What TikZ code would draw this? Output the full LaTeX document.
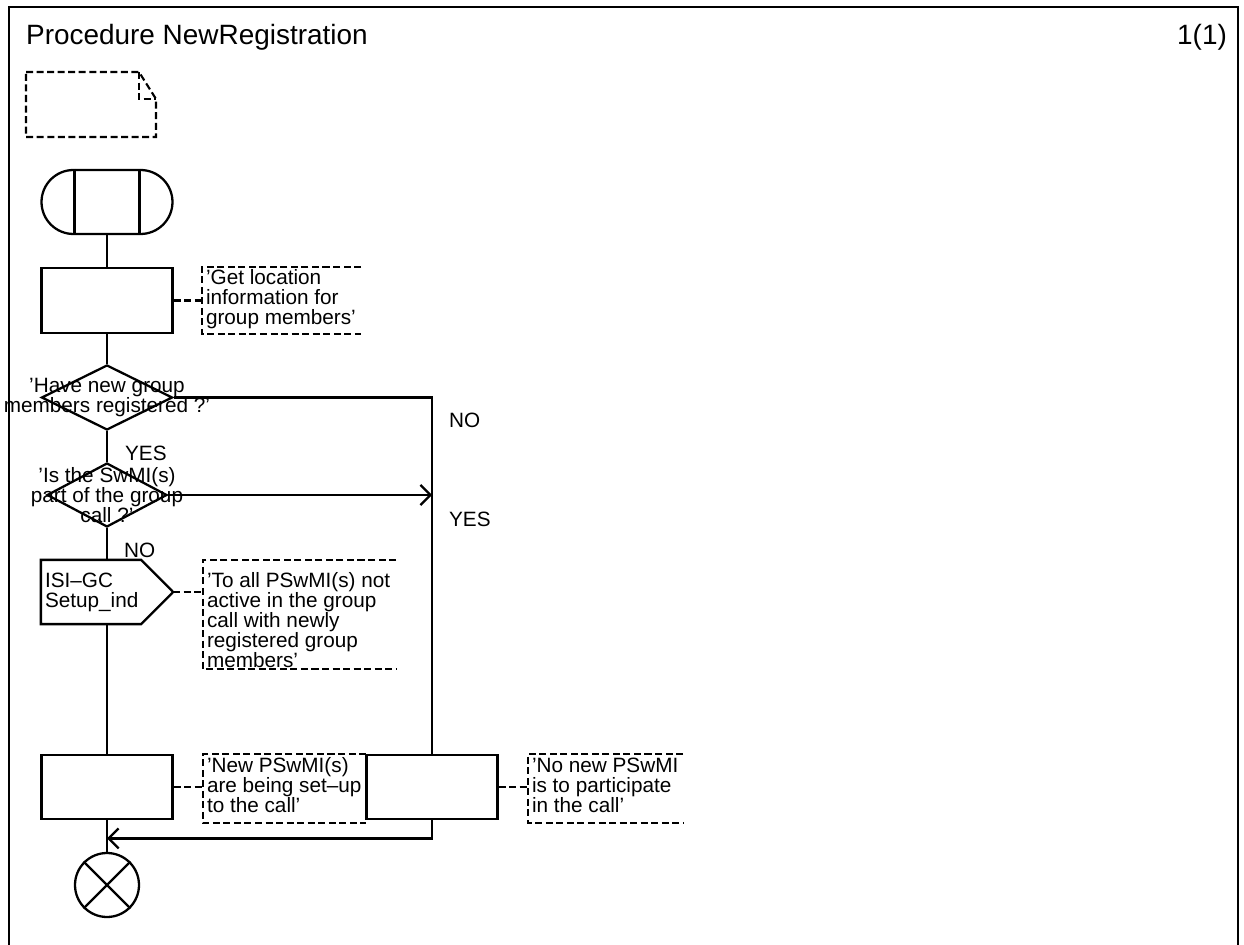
\documentclass[tikz,border=0pt]{standalone}
\usepackage{fontspec}
\setmainfont{Liberation Sans}
\usetikzlibrary{shapes.geometric,shapes.misc,arrows.meta,calc,positioning}
\tikzset{
  task/.style={
    shape = rectangle,
    draw,
    minimum width = 2.62cm,
    minimum height = 1.29cm,
    inner sep = 0pt
  },
  startsym/.style={
    shape = rounded rectangle,
    draw,
    minimum width = 2.62cm,
    minimum height = 1.28cm,
    inner sep = 0pt
  },
  decision/.style={
    shape = diamond,
    draw,
    minimum width = 2.62cm,
    minimum height = 1.3cm,
    inner sep = 0pt
  },
  outsig/.style={
    shape = rectangle,
    minimum width = 2.6cm,
    minimum height = 1.24cm,
    text width = 2.48cm,
    inner xsep = 0.06cm,
    inner ysep = 0pt,
    align = left
  },
  stopsym/.style={
    shape = circle,
    draw,
    minimum size = 1.28cm,
    inner sep = 0pt
  },
}
\tikzset{
  note/.style={
    inner sep = 0pt,
    minimum height = 1.34cm
  },
  notetext/.style={
    anchor = base west,
    align = left,
    inner sep = 0pt
  },
  bracket/.style={
    draw,
    line width = 1.2pt,
    dash pattern = on 4pt off 2pt
  },
  lbl/.style={
    anchor = base west,
    inner sep = 0pt
  },
  flow/.style={
    -{Straight Barb[length=0.2cm,width=0.4cm]}
  },
  bigfont/.style={
    font = \fontsize{15.9pt}{18pt}\selectfont
  }
}

\begin{document}
\begin{tikzpicture}[x=0.02cm, y=-0.02cm, line width=1.3pt,
  font=\fontsize{11.8pt}{11.4pt}\selectfont]
  \useasboundingbox (0,0) rectangle (1244,945);
  % frame and heading
  \draw (9,945) -- (9,7) -- (1238,7) -- (1238,945);
  \node[lbl,bigfont] (title) at (25,45) {Procedure NewRegistration};
  \node[lbl,bigfont,anchor=base east] (page) at (1228,45) {1(1)};
  \draw[bracket] (26,72) -- (139,72) -- (156,99) -- (156,137) -- (26,137) -- cycle;
  \draw[bracket] (139,72) -- (139,99) -- (156,99);

  % symbols
  \node[startsym] (start) at (107,202) {};
  \draw ([xshift=-0.65cm]start.north) -- ([xshift=-0.65cm]start.south)
        ([xshift=0.65cm]start.north) -- ([xshift=0.65cm]start.south);
  \node[task] (task1) at (107,300.5) {};
  \node[decision] (d1) at (107,397.5) {};
  \node[align=center,inner sep=0pt] (d1text) at (d1) {'Have new group\\members registered ?'};
  \node[decision,minimum width=2.4cm,minimum height=1.28cm] (d2) at (107,495) {};
  \node[align=center,inner sep=0pt] (d2text) at (d2) {'Is the SwMI(s)\\part of the group\\call ?'};
  \node[outsig] (out) at (107,592) {ISI--GC\\Setup\_ind};
  \draw (out.north west) -- ([xshift=-0.64cm]out.north east) -- (out.east)
        -- ([xshift=-0.64cm]out.south east) -- (out.south west) -- cycle;
  \node[task] (task3) at (107,787) {};
  \node[task] (task4) at (432,787) {};
  \node[stopsym] (stop) at (107,885) {};
  \draw (stop.north west) -- (stop.south east)
        (stop.north east) -- (stop.south west);

  % comments
  \node[note,minimum width=3.14cm,minimum height=1.3cm] (c1) at (281.5,300.5) {};
  \node[note,minimum width=3.82cm,minimum height=2.14cm] (c2) at (299.5,614.5) {};
  \node[note,minimum width=3.22cm] (c3) at (284.5,788.5) {};
  \node[note,minimum width=3.06cm] (c4) at (605.5,788.5) {};
  \foreach \c in {c1,c2,c3,c4}{
    \draw[bracket] (\c.north east) -| (\c.south west) -- (\c.south east);
  }
  \node[notetext] (c1text) at ($(c1.north west)+(3,58)$) {'Get location\\information for\\group members'};
  \node[notetext] (c2text) at ($(c2.north west)+(3,108)$) {'To all PSwMI(s) not\\active in the group\\call with newly\\registered group\\members'};
  \node[notetext] (c3text) at ($(c3.north west)+(3,59)$) {'New PSwMI(s)\\are being set--up\\to the call'};
  \node[notetext] (c4text) at ($(c4.north west)+(3,59)$) {'No new PSwMI\\is to participate\\in the call'};

  % connectors
  \draw (start) -- (task1);
  \draw (task1) -- (d1);
  \draw (d1.east) -| (task4.north);
  \draw (d1) -- (d2);
  \draw[flow] (d2.east) -- (d2.east -| task4.north);
  \draw (d2) -- (out);
  \draw (out) -- (task3);
  \draw (task3) -- (stop);
  \coordinate (join) at ($(task3.south)+(0,18)$);
  \draw[flow] (task4.south) |- (join);
  \draw[bracket] (task1.east) -- (c1.west);
  \draw[bracket] (out.east) -- (out.east -| c2.west);
  \draw[bracket] (task3.east) -- (task3.east -| c3.west);
  \draw[bracket] (task4.east) -- (task4.east -| c4.west);

  % branch labels
  \node[lbl] (no1) at (448,428) {NO};
  \node[lbl] (yes1) at (124,461) {YES};
  \node[lbl] (yes2) at (448,527) {YES};
  \node[lbl] (no2) at (123,558) {NO};
\end{tikzpicture}
\end{document}
